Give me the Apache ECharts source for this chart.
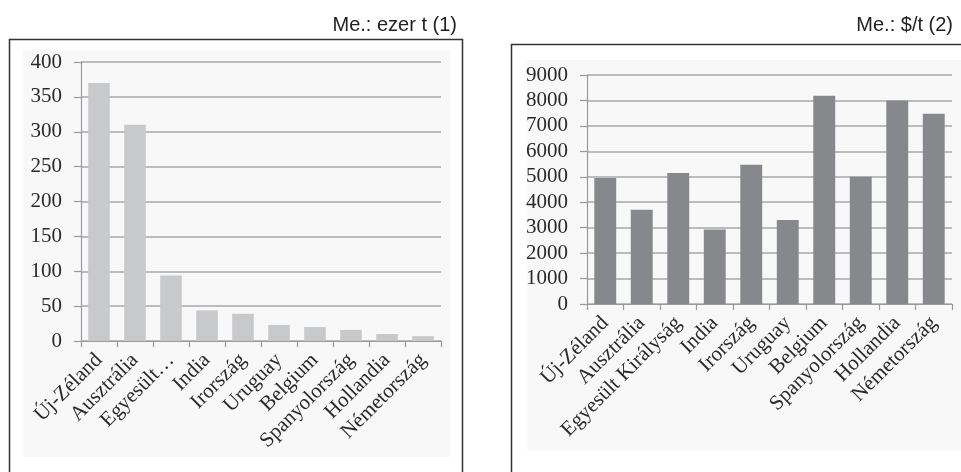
<!DOCTYPE html>
<html>
<head>
<meta charset="utf-8">
<script src="https://cdn.jsdelivr.net/npm/echarts@6/dist/echarts.min.js"></script>
<style>
  html, body { margin: 0; padding: 0; background: #ffffff; }
  #chart { width: 961px; height: 472px; }
</style>
</head>
<body>
<div id="chart"></div>
<script>
// Countries, shared by both panels
var countries = ['Új-Zéland', 'Ausztrália', 'Egyesült Királyság', 'India', 'Irország',
                 'Uruguay', 'Belgium', 'Spanyolország', 'Hollandia', 'Németország'];

// Panel (1): quantity, thousand tonnes
var quantity = [370, 310, 94, 44, 39, 23, 20, 16, 10, 7];
var quantityTicks = { min: 0, max: 400, interval: 50 };

// Panel (2): unit price, $/t
var unitPrice = [4950, 3700, 5150, 2930, 5470, 3300, 8180, 5000, 8000, 7480];
var priceTicks = { min: 0, max: 9000, interval: 1000 };

var unitLeft = 'Me.: ezer t (1)';
var unitRight = 'Me.: $/t (2)';

var serif = "'Liberation Serif', 'Times New Roman', serif";
var sans = "'Liberation Sans', Arial, sans-serif";

function valueAxis(idx, ticks) {
  return {
    type: 'value', gridIndex: idx,
    min: ticks.min, max: ticks.max, interval: ticks.interval,
    axisLine: { show: true, lineStyle: { color: '#9a9a9a', width: 1.2 } },
    axisTick: { show: true, length: 7, lineStyle: { color: '#9a9a9a', width: 1.2 } },
    splitLine: { show: true, lineStyle: { color: '#a8a8a8', width: 1.5 } },
    axisLabel: {
      fontFamily: serif, fontSize: 21, color: '#2a2a2a', margin: 19,
      formatter: function (v) { return String(v); }
    }
  };
}

function categoryAxis(idx, shorten) {
  return {
    type: 'category', gridIndex: idx, data: countries,
    axisLine: { show: true, lineStyle: { color: '#9a9a9a', width: 1.2 } },
    axisTick: { show: true, length: 6, lineStyle: { color: '#9a9a9a', width: 1.2 } },
    axisLabel: {
      interval: 0, rotate: 45, margin: 16,
      fontFamily: serif, fontSize: 21, color: '#2a2a2a',
      formatter: function (v) {
        // the narrow panel abbreviates multi-word names
        return (shorten && v.indexOf(' ') > 0) ? v.split(' ')[0] + '…' : v;
      }
    }
  };
}

var chart = echarts.init(document.getElementById('chart'), null, { renderer: 'canvas' });

chart.setOption({
  animation: false,
  backgroundColor: '#ffffff',
  title: [
    { text: unitLeft, right: 499, top: 10,
      textStyle: { fontFamily: sans, fontSize: 20, fontWeight: 'normal', color: '#222' } },
    { text: unitRight, right: 3, top: 10,
      textStyle: { fontFamily: sans, fontSize: 20, fontWeight: 'normal', color: '#222' } }
  ],
  graphic: [
    // frames around each panel
    { type: 'rect', z: -10, shape: { x: 9.5, y: 39.5, width: 453, height: 445 },
      style: { fill: '#ffffff', stroke: '#333333', lineWidth: 1.5 } },
    { type: 'rect', z: -10, shape: { x: 511.5, y: 44.5, width: 460, height: 445 },
      style: { fill: '#ffffff', stroke: '#333333', lineWidth: 1.5 } },
    // faint chart-area fills
    { type: 'rect', z: -9, shape: { x: 23, y: 50, width: 427, height: 407 },
      style: { fill: '#f8f8f8' } },
    { type: 'rect', z: -9, shape: { x: 527, y: 60, width: 434, height: 390 },
      style: { fill: '#f8f8f8' } }
  ],
  grid: [
    { left: 81, right: 520, top: 62, bottom: 131 },
    { left: 587, right: 9, top: 75, bottom: 168 }
  ],
  xAxis: [categoryAxis(0, true), categoryAxis(1, false)],
  yAxis: [valueAxis(0, quantityTicks), valueAxis(1, priceTicks)],
  series: [
    { type: 'bar', xAxisIndex: 0, yAxisIndex: 0, data: quantity,
      barCategoryGap: '40%', itemStyle: { color: '#c8c9cb' } },
    { type: 'bar', xAxisIndex: 1, yAxisIndex: 1, data: unitPrice,
      barCategoryGap: '40%', itemStyle: { color: '#87888b' } }
  ]
});
</script>
</body>
</html>
